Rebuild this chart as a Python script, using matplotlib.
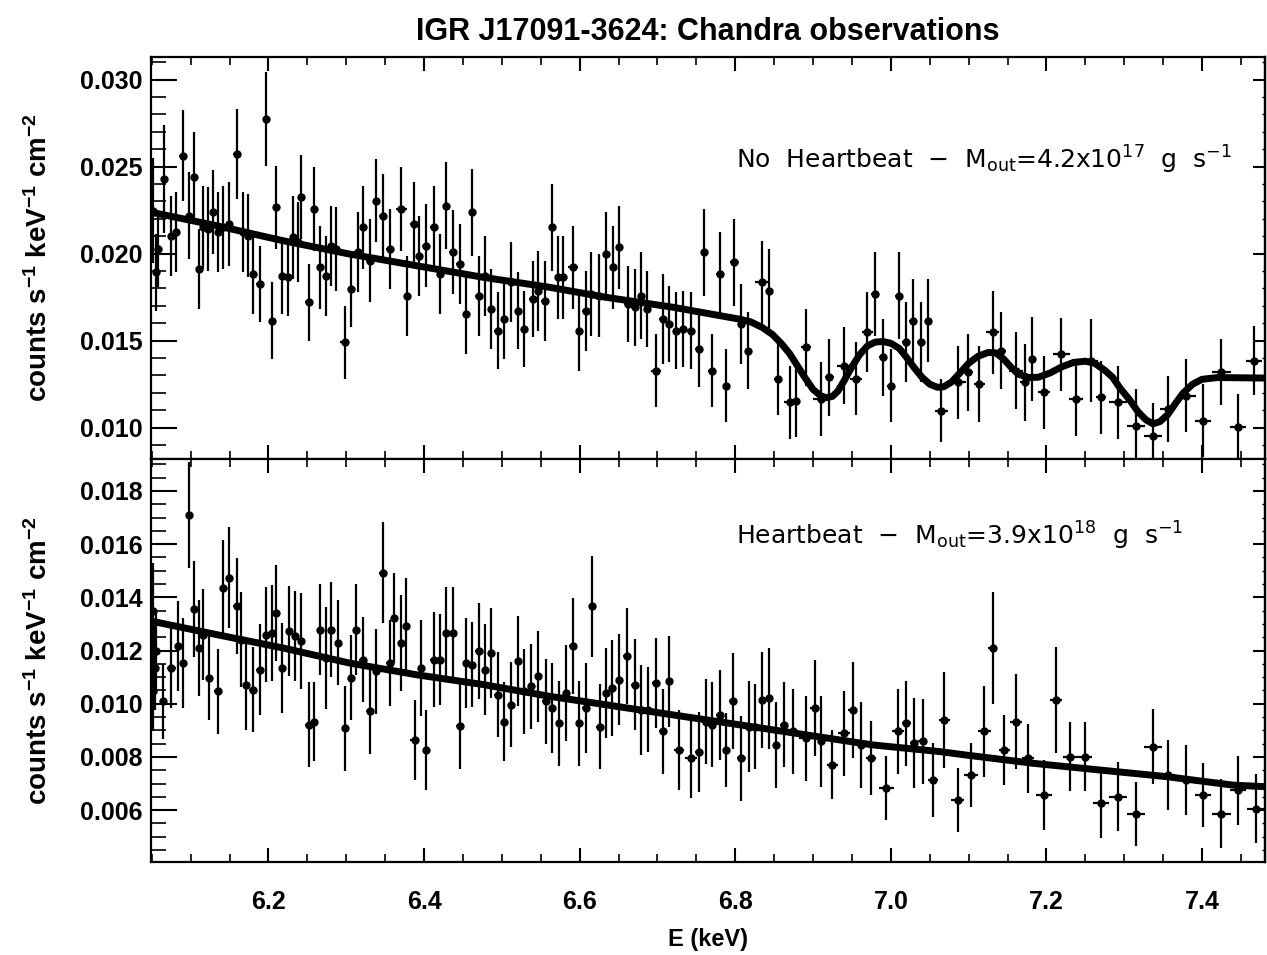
import numpy as np
import matplotlib
matplotlib.use("Agg")
import matplotlib.pyplot as plt
from matplotlib.ticker import MultipleLocator, FormatStrFormatter

plt.rcParams['font.family'] = ['Liberation Sans', 'DejaVu Sans']
plt.rcParams['mathtext.default'] = 'regular'

# ---- Panel superior: sin heartbeat ----
e_top = [6.052, 6.056, 6.058, 6.066, 6.075, 6.081, 6.090, 6.098, 6.104, 6.111,
         6.116, 6.122, 6.129, 6.135, 6.141, 6.149, 6.159, 6.167, 6.174, 6.180,
         6.189, 6.197, 6.204, 6.210, 6.218, 6.225, 6.231, 6.238, 6.242, 6.252,
         6.258, 6.266, 6.274, 6.281, 6.287, 6.298, 6.306, 6.315, 6.321, 6.330,
         6.338, 6.347, 6.356, 6.371, 6.378, 6.387, 6.394, 6.402, 6.413, 6.420,
         6.428, 6.437, 6.446, 6.454, 6.461, 6.471, 6.478, 6.486, 6.495, 6.503,
         6.512, 6.521, 6.529, 6.540, 6.546, 6.555, 6.565, 6.572, 6.578, 6.591,
         6.599, 6.608, 6.615, 6.625, 6.634, 6.643, 6.651, 6.662, 6.671, 6.679,
         6.686, 6.698, 6.707, 6.715, 6.724, 6.733, 6.743, 6.753, 6.760, 6.770,
         6.780, 6.788, 6.799, 6.808, 6.816, 6.835, 6.844, 6.855, 6.870, 6.878,
         6.891, 6.910, 6.921, 6.940, 6.955, 6.970, 6.980, 6.990, 7.000, 7.010,
         7.020, 7.028, 7.039, 7.048, 7.065, 7.086, 7.099, 7.114, 7.131, 7.142,
         7.161, 7.172, 7.182, 7.197, 7.219, 7.238, 7.257, 7.270, 7.292, 7.315,
         7.337, 7.356, 7.380, 7.401, 7.425, 7.446, 7.467]
f_top = [0.02247, 0.01893, 0.02027, 0.02429, 0.02103, 0.02123, 0.02563, 0.02218, 0.02439, 0.01912,
         0.02151, 0.02142, 0.02238, 0.02123, 0.02151, 0.02171, 0.02573, 0.02123, 0.02103, 0.01883,
         0.01826, 0.02774, 0.01615, 0.02266, 0.01874, 0.01864, 0.02094, 0.02065, 0.02324, 0.01720,
         0.02257, 0.01921, 0.01874, 0.02046, 0.02027, 0.01490, 0.01797, 0.02008, 0.02151, 0.01960,
         0.02305, 0.02218, 0.02027, 0.02257, 0.01759, 0.02171, 0.01988, 0.02046, 0.02151, 0.01883,
         0.02276, 0.02008, 0.01941, 0.01653, 0.02238, 0.01759, 0.01874, 0.01682, 0.01557, 0.01624,
         0.01835, 0.01672, 0.01567, 0.01739, 0.01787, 0.01730, 0.02151, 0.01864, 0.01864, 0.01921,
         0.01557, 0.01672, 0.01768, 0.01759, 0.01998, 0.01921, 0.02036, 0.01711, 0.01692, 0.01759,
         0.01682, 0.01328, 0.01624, 0.01596, 0.01557, 0.01567, 0.01557, 0.01452, 0.02008, 0.01328,
         0.01883, 0.01241, 0.01950, 0.01596, 0.01442, 0.01835, 0.01787, 0.01280, 0.01146, 0.01155,
         0.01462, 0.01165, 0.01289, 0.01356, 0.01280, 0.01548, 0.01768, 0.01404, 0.01241, 0.01759,
         0.01490, 0.01615, 0.01490, 0.01615, 0.01098, 0.01261, 0.01318, 0.01251, 0.01548, 0.01443,
         0.01328, 0.01261, 0.01395, 0.01203, 0.01423, 0.01165, 0.01385, 0.01174, 0.01146, 0.01012,
         0.00954, 0.01107, 0.01184, 0.01040, 0.01318, 0.01002, 0.01385]
err_top = [0.0030, 0.0022, 0.0022, 0.0031, 0.0023, 0.0023, 0.0026, 0.0025, 0.0026, 0.0023,
           0.0024, 0.0024, 0.0024, 0.0023, 0.0024, 0.0024, 0.0026, 0.0023, 0.0024, 0.0023,
           0.0022, 0.0027, 0.0022, 0.0024, 0.0022, 0.0022, 0.0024, 0.0023, 0.0024, 0.0022,
           0.0024, 0.0024, 0.0023, 0.0023, 0.0024, 0.0021, 0.0022, 0.0023, 0.0024, 0.0024,
           0.0024, 0.0024, 0.0023, 0.0024, 0.0023, 0.0024, 0.0023, 0.0024, 0.0024, 0.0023,
           0.0025, 0.0024, 0.0023, 0.0023, 0.0025, 0.0023, 0.0023, 0.0023, 0.0022, 0.0023,
           0.0023, 0.0022, 0.0022, 0.0022, 0.0023, 0.0023, 0.0025, 0.0024, 0.0024, 0.0024,
           0.0023, 0.0023, 0.0024, 0.0024, 0.0024, 0.0024, 0.0024, 0.0022, 0.0022, 0.0025,
           0.0022, 0.0021, 0.0026, 0.0022, 0.0022, 0.0022, 0.0022, 0.0022, 0.0025, 0.0021,
           0.0024, 0.0021, 0.0025, 0.0023, 0.0022, 0.0024, 0.0024, 0.0021, 0.0021, 0.0021,
           0.0022, 0.0021, 0.0022, 0.0022, 0.0021, 0.0023, 0.0024, 0.0022, 0.0021, 0.0025,
           0.0023, 0.0024, 0.0023, 0.0024, 0.0018, 0.0021, 0.0022, 0.0022, 0.0024, 0.0022,
           0.0022, 0.0022, 0.0024, 0.0021, 0.0021, 0.0021, 0.0024, 0.0021, 0.0021, 0.0021,
           0.0019, 0.0019, 0.0021, 0.0021, 0.0019, 0.0019, 0.0020]

# modelo (curva gruesa) del panel superior
e_mod_top = [6.047, 6.133, 6.218, 6.304, 6.390, 6.476, 6.561, 6.634, 6.720, 6.805,
             6.820, 6.835, 6.848, 6.860, 6.870, 6.880, 6.890, 6.900, 6.910, 6.917,
             6.925, 6.932, 6.940, 6.950, 6.960, 6.970, 6.980, 6.990, 7.000, 7.011,
             7.020, 7.030, 7.040, 7.050, 7.060, 7.068, 7.078, 7.090, 7.100, 7.112,
             7.125, 7.135, 7.145, 7.155, 7.165, 7.178, 7.190, 7.205, 7.220, 7.235,
             7.250, 7.262, 7.275, 7.285, 7.295, 7.307, 7.318, 7.328, 7.337, 7.346,
             7.356, 7.366, 7.376, 7.388, 7.400, 7.420, 7.482]
f_mod_top = [0.02240, 0.02161, 0.02075, 0.01998, 0.01931, 0.01864, 0.01807, 0.01749, 0.01692, 0.01624,
             0.01608, 0.01575, 0.01535, 0.01480, 0.01425, 0.01355, 0.01285, 0.01220, 0.01183, 0.01172,
             0.01180, 0.01210, 0.01270, 0.01350, 0.01420, 0.01470, 0.01492, 0.01495, 0.01485, 0.01455,
             0.01405, 0.01345, 0.01290, 0.01250, 0.01232, 0.01235, 0.01262, 0.01320, 0.01370, 0.01410,
             0.01432, 0.01430, 0.01395, 0.01345, 0.01305, 0.01288, 0.01290, 0.01315, 0.01350, 0.01375,
             0.01382, 0.01370, 0.01330, 0.01290, 0.01225, 0.01160, 0.01090, 0.01045, 0.01022, 0.01035,
             0.01075, 0.01140, 0.01200, 0.01250, 0.01278, 0.01288, 0.01285]

# ---- Panel inferior: heartbeat ----
e_bot = [6.051, 6.052, 6.054, 6.056, 6.064, 6.075, 6.084, 6.090, 6.098, 6.104,
         6.111, 6.116, 6.124, 6.135, 6.142, 6.149, 6.159, 6.165, 6.171, 6.180,
         6.189, 6.197, 6.204, 6.210, 6.218, 6.227, 6.234, 6.242, 6.252, 6.259,
         6.266, 6.274, 6.281, 6.289, 6.299, 6.306, 6.313, 6.321, 6.330, 6.338,
         6.347, 6.356, 6.362, 6.371, 6.377, 6.388, 6.396, 6.403, 6.413, 6.420,
         6.428, 6.437, 6.446, 6.454, 6.461, 6.471, 6.478, 6.486, 6.495, 6.503,
         6.512, 6.521, 6.529, 6.538, 6.546, 6.557, 6.565, 6.574, 6.582, 6.591,
         6.599, 6.608, 6.616, 6.626, 6.634, 6.642, 6.651, 6.661, 6.671, 6.679,
         6.688, 6.698, 6.707, 6.715, 6.728, 6.743, 6.753, 6.763, 6.770, 6.780,
         6.788, 6.797, 6.808, 6.818, 6.825, 6.835, 6.844, 6.853, 6.863, 6.874,
         6.891, 6.902, 6.910, 6.925, 6.940, 6.951, 6.962, 6.975, 6.994, 7.009,
         7.020, 7.030, 7.041, 7.054, 7.069, 7.086, 7.103, 7.120, 7.131, 7.146,
         7.161, 7.176, 7.197, 7.212, 7.230, 7.249, 7.270, 7.292, 7.315, 7.337,
         7.356, 7.380, 7.401, 7.425, 7.446, 7.470]
f_bot = [0.01047, 0.01349, 0.01135, 0.01197, 0.01009, 0.01135, 0.01216, 0.01153, 0.01709, 0.01355,
         0.01210, 0.01260, 0.01097, 0.01047, 0.01436, 0.01474, 0.01367, 0.01241, 0.01072, 0.01053,
         0.01128, 0.01260, 0.01267, 0.01342, 0.01135, 0.01273, 0.01254, 0.01235, 0.00921, 0.00933,
         0.01279, 0.01172, 0.01279, 0.01229, 0.00908, 0.01097, 0.01279, 0.01166, 0.00971, 0.01122,
         0.01493, 0.01153, 0.01323, 0.01229, 0.01292, 0.00864, 0.01135, 0.00826, 0.01166, 0.01166,
         0.01267, 0.01267, 0.00915, 0.01153, 0.01147, 0.01197, 0.01128, 0.01191, 0.01034, 0.00933,
         0.00996, 0.01160, 0.01047, 0.01065, 0.01103, 0.01009, 0.00984, 0.00927, 0.01040, 0.01216,
         0.00927, 0.00984, 0.01367, 0.00914, 0.01040, 0.01059, 0.01091, 0.01179, 0.01072, 0.00977,
         0.00977, 0.01078, 0.00896, 0.01084, 0.00826, 0.00795, 0.00820, 0.00933, 0.00921, 0.00958,
         0.00826, 0.01009, 0.00795, 0.00914, 0.00914, 0.01015, 0.01021, 0.00845, 0.00921, 0.00896,
         0.00870, 0.00984, 0.00858, 0.00770, 0.00889, 0.00977, 0.00845, 0.00795, 0.00682, 0.00896,
         0.00927, 0.00852, 0.00858, 0.00713, 0.00940, 0.00638, 0.00732, 0.00896, 0.01210, 0.00826,
         0.00933, 0.00795, 0.00657, 0.01015, 0.00801, 0.00801, 0.00625, 0.00650, 0.00587, 0.00839,
         0.00732, 0.00713, 0.00657, 0.00587, 0.00675, 0.00606]
err_bot = [0.0015, 0.0018, 0.0016, 0.0016, 0.0014, 0.0015, 0.0017, 0.0017, 0.0020, 0.0018,
           0.0018, 0.0017, 0.0016, 0.0016, 0.0018, 0.0019, 0.0018, 0.0018, 0.0017, 0.0016,
           0.0017, 0.0018, 0.0018, 0.0018, 0.0017, 0.0017, 0.0017, 0.0018, 0.0016, 0.0015,
           0.0017, 0.0019, 0.0018, 0.0016, 0.0016, 0.0016, 0.0017, 0.0016, 0.0016, 0.0016,
           0.0019, 0.0016, 0.0017, 0.0018, 0.0018, 0.0015, 0.0018, 0.0015, 0.0018, 0.0017,
           0.0017, 0.0017, 0.0016, 0.0017, 0.0016, 0.0018, 0.0017, 0.0017, 0.0016, 0.0015,
           0.0016, 0.0017, 0.0016, 0.0016, 0.0017, 0.0016, 0.0017, 0.0016, 0.0018, 0.0018,
           0.0016, 0.0017, 0.0019, 0.0016, 0.0017, 0.0018, 0.0017, 0.0018, 0.0017, 0.0017,
           0.0016, 0.0017, 0.0016, 0.0017, 0.0015, 0.0015, 0.0015, 0.0016, 0.0016, 0.0017,
           0.0014, 0.0018, 0.0016, 0.0017, 0.0016, 0.0018, 0.0019, 0.0016, 0.0016, 0.0016,
           0.0016, 0.0018, 0.0017, 0.0013, 0.0016, 0.0018, 0.0016, 0.0014, 0.0012, 0.0016,
           0.0016, 0.0017, 0.0016, 0.0014, 0.0018, 0.0012, 0.0012, 0.0017, 0.0021, 0.0013,
           0.0018, 0.0013, 0.0013, 0.0020, 0.0013, 0.0013, 0.0013, 0.0013, 0.0012, 0.0014,
           0.0013, 0.0013, 0.0012, 0.0013, 0.0013, 0.0013]

e_mod_bot = [6.047, 6.133, 6.218, 6.304, 6.390, 6.476, 6.561, 6.634, 6.720, 6.805,
             6.891, 6.977, 7.063, 7.097, 7.183, 7.268, 7.354, 7.440, 7.482]
f_mod_bot = [0.01312, 0.01260, 0.01210, 0.01153, 0.01109, 0.01072, 0.01028, 0.00996, 0.00958, 0.00921,
             0.00883, 0.00845, 0.00820, 0.00807, 0.00776, 0.00751, 0.00726, 0.00694, 0.00688]

labels_txt = [r'No  Heartbeat  $-$  M$_{\rm out}$=4.2x10$^{17}$  g  s$^{-1}$',
              r'Heartbeat  $-$  M$_{\rm out}$=3.9x10$^{18}$  g  s$^{-1}$']


def half_bins(e):
    # semi-ancho de cada canal a partir de la separacion entre puntos vecinos
    e = np.asarray(e)
    d = np.diff(e)
    d = np.concatenate([[d[0]], d])
    return d / 2.0


W, H = 1267, 955
fig = plt.figure(figsize=(W / 100, H / 100), dpi=100)
left, right = 151 / W, 1265 / W
ax1 = fig.add_axes([left, 1 - 459 / H, right - left, 402 / H])
ax2 = fig.add_axes([left, 1 - 862 / H, right - left, 403 / H])

paneles = [
    (ax1, e_top, f_top, err_top, e_mod_top, f_mod_top, (0.0082, 0.0313), 0.005, 0.001, labels_txt[0], 0.745),
    (ax2, e_bot, f_bot, err_bot, e_mod_bot, f_mod_bot, (0.00405, 0.0192), 0.002, 0.0005, labels_txt[1], 0.81),
]

for ax, e, f, err, em, fm, ylim, maj, mnr, txt, ty in paneles:
    ax.errorbar(e, f, yerr=err, xerr=half_bins(e), fmt='o', color='black',
                ms=5, elinewidth=1.6, capsize=0, zorder=3)
    ax.plot(em, fm, color='black', lw=5, solid_capstyle='butt',
            solid_joinstyle='round', zorder=4)
    ax.set_xlim(6.049, 7.481)
    ax.set_ylim(*ylim)
    ax.xaxis.set_major_locator(MultipleLocator(0.2))
    ax.xaxis.set_minor_locator(MultipleLocator(0.05))
    ax.yaxis.set_major_locator(MultipleLocator(maj))
    ax.yaxis.set_minor_locator(MultipleLocator(mnr))
    ax.yaxis.set_major_formatter(FormatStrFormatter('%.3f'))
    ax.xaxis.set_major_formatter(FormatStrFormatter('%.1f'))
    ax.tick_params(axis='x', which='major', direction='in', length=10, width=1.5, top=True)
    ax.tick_params(axis='x', which='minor', direction='in', length=6, width=1.2, top=True)
    ax.tick_params(axis='y', which='major', direction='in', length=19, width=1.5, pad=6)
    ax.tick_params(axis='y', which='minor', direction='in', length=11, width=1.2)
    for lab in ax.get_yticklabels() + ax.get_xticklabels():
        lab.set_fontweight('bold')
        lab.set_fontsize(18)
    # eje derecho con marcas mas cortas
    sec = ax.secondary_yaxis('right')
    sec.yaxis.set_major_locator(MultipleLocator(maj))
    sec.yaxis.set_minor_locator(MultipleLocator(mnr))
    sec.tick_params(which='major', direction='in', length=9, width=1.5, labelright=False)
    sec.tick_params(which='minor', direction='in', length=2, width=1.0)
    for sp in ax.spines.values():
        sp.set_linewidth(1.6)
    sec.spines['right'].set_linewidth(1.6)
    ax.set_ylabel(r'counts s$^{-1}$ keV$^{-1}$ cm$^{-2}$', fontsize=20,
                  fontweight='bold')
    ax.yaxis.set_label_coords(-0.088, 0.5)
    ax.text(0.525, ty, txt, transform=ax.transAxes, fontsize=18,
            family='DejaVu Sans', va='center', ha='left')

ax1.tick_params(axis='x', labelbottom=False)
ax2.tick_params(axis='x', pad=20)
ax2.set_xlabel('E (keV)', fontsize=17, fontweight='bold', labelpad=10)
ax1.set_title('IGR J17091-3624: Chandra observations', fontsize=22,
              fontweight='bold', pad=12)

fig.savefig('out.png', dpi=100)
